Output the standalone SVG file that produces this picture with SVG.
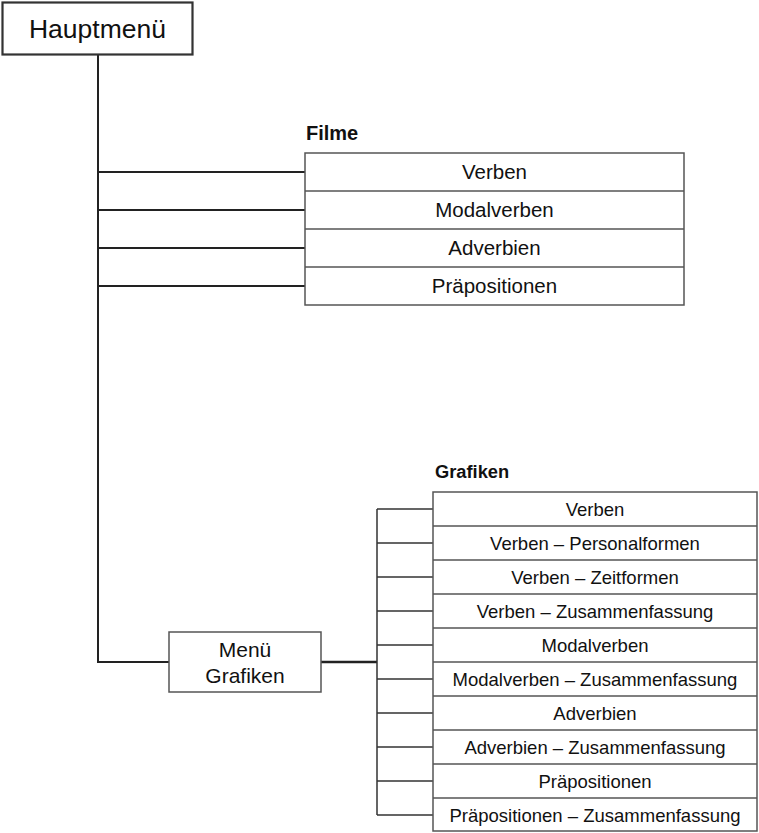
<svg xmlns="http://www.w3.org/2000/svg" width="759" height="833" viewBox="0 0 759 833">
<style>
text{font-family:"Liberation Sans",Arial,sans-serif;fill:#111}
.box{fill:#fff;stroke:#555;stroke-width:1.5}
.div{stroke:#555;stroke-width:1.5}
.c{fill:none;stroke:#222;stroke-width:2}
.c2{fill:none;stroke:#333;stroke-width:1.5}
.f{font-size:20.5px;text-anchor:middle}
.g{font-size:18.5px;text-anchor:middle}
.lbl{font-weight:bold}
</style>
<rect width="759" height="833" fill="#fff"/>
<g id="connectors">
<path class="c" d="M98 55V662H169"/>
<path class="c" d="M98 172H305M98 210H305M98 248H305M98 286H305"/>
<path class="c" d="M321 662H377" style="stroke-width:2.5"/>
<path class="c2" d="M377 509V815M377 509H433M377 543H433M377 577H433M377 611H433M377 645H433M377 679H433M377 713H433M377 747H433M377 781H433M377 815H433"/>
</g>
<g id="hauptmenue">
<rect x="2.5" y="2.5" width="190" height="52" fill="#fff" stroke="#333" stroke-width="2.2"/>
<text x="97.5" y="38" font-size="26.5" text-anchor="middle">Hauptmenü</text>
</g>
<g id="filme">
<text class="lbl" x="306" y="140" font-size="20">Filme</text>
<rect class="box" x="305" y="153" width="379" height="152"/>
<path class="div" d="M305 191H684M305 229H684M305 267H684"/>
<text class="f" x="494.5" y="179">Verben</text>
<text class="f" x="494.5" y="217">Modalverben</text>
<text class="f" x="494.5" y="255">Adverbien</text>
<text class="f" x="494.5" y="293">Präpositionen</text>
</g>
<g id="menue-grafiken">
<rect class="box" x="169" y="632" width="152" height="60"/>
<text x="245" y="657" font-size="21" text-anchor="middle">Menü</text>
<text x="245" y="683" font-size="21" text-anchor="middle">Grafiken</text>
</g>
<g id="grafiken">
<text class="lbl" x="435" y="478" font-size="18.3">Grafiken</text>
<rect class="box" x="433" y="492" width="324" height="339"/>
<path class="div" d="M433 526H757M433 560H757M433 594H757M433 628H757M433 662H757M433 696H757M433 730H757M433 764H757M433 798H757"/>
<text class="g" x="595" y="515.5">Verben</text>
<text class="g" x="595" y="549.5">Verben – Personalformen</text>
<text class="g" x="595" y="583.5">Verben – Zeitformen</text>
<text class="g" x="595" y="617.5">Verben – Zusammenfassung</text>
<text class="g" x="595" y="651.5">Modalverben</text>
<text class="g" x="595" y="685.5">Modalverben – Zusammenfassung</text>
<text class="g" x="595" y="719.5">Adverbien</text>
<text class="g" x="595" y="753.5">Adverbien – Zusammenfassung</text>
<text class="g" x="595" y="787.5">Präpositionen</text>
<text class="g" x="595" y="821.5">Präpositionen – Zusammenfassung</text>
</g>
</svg>
